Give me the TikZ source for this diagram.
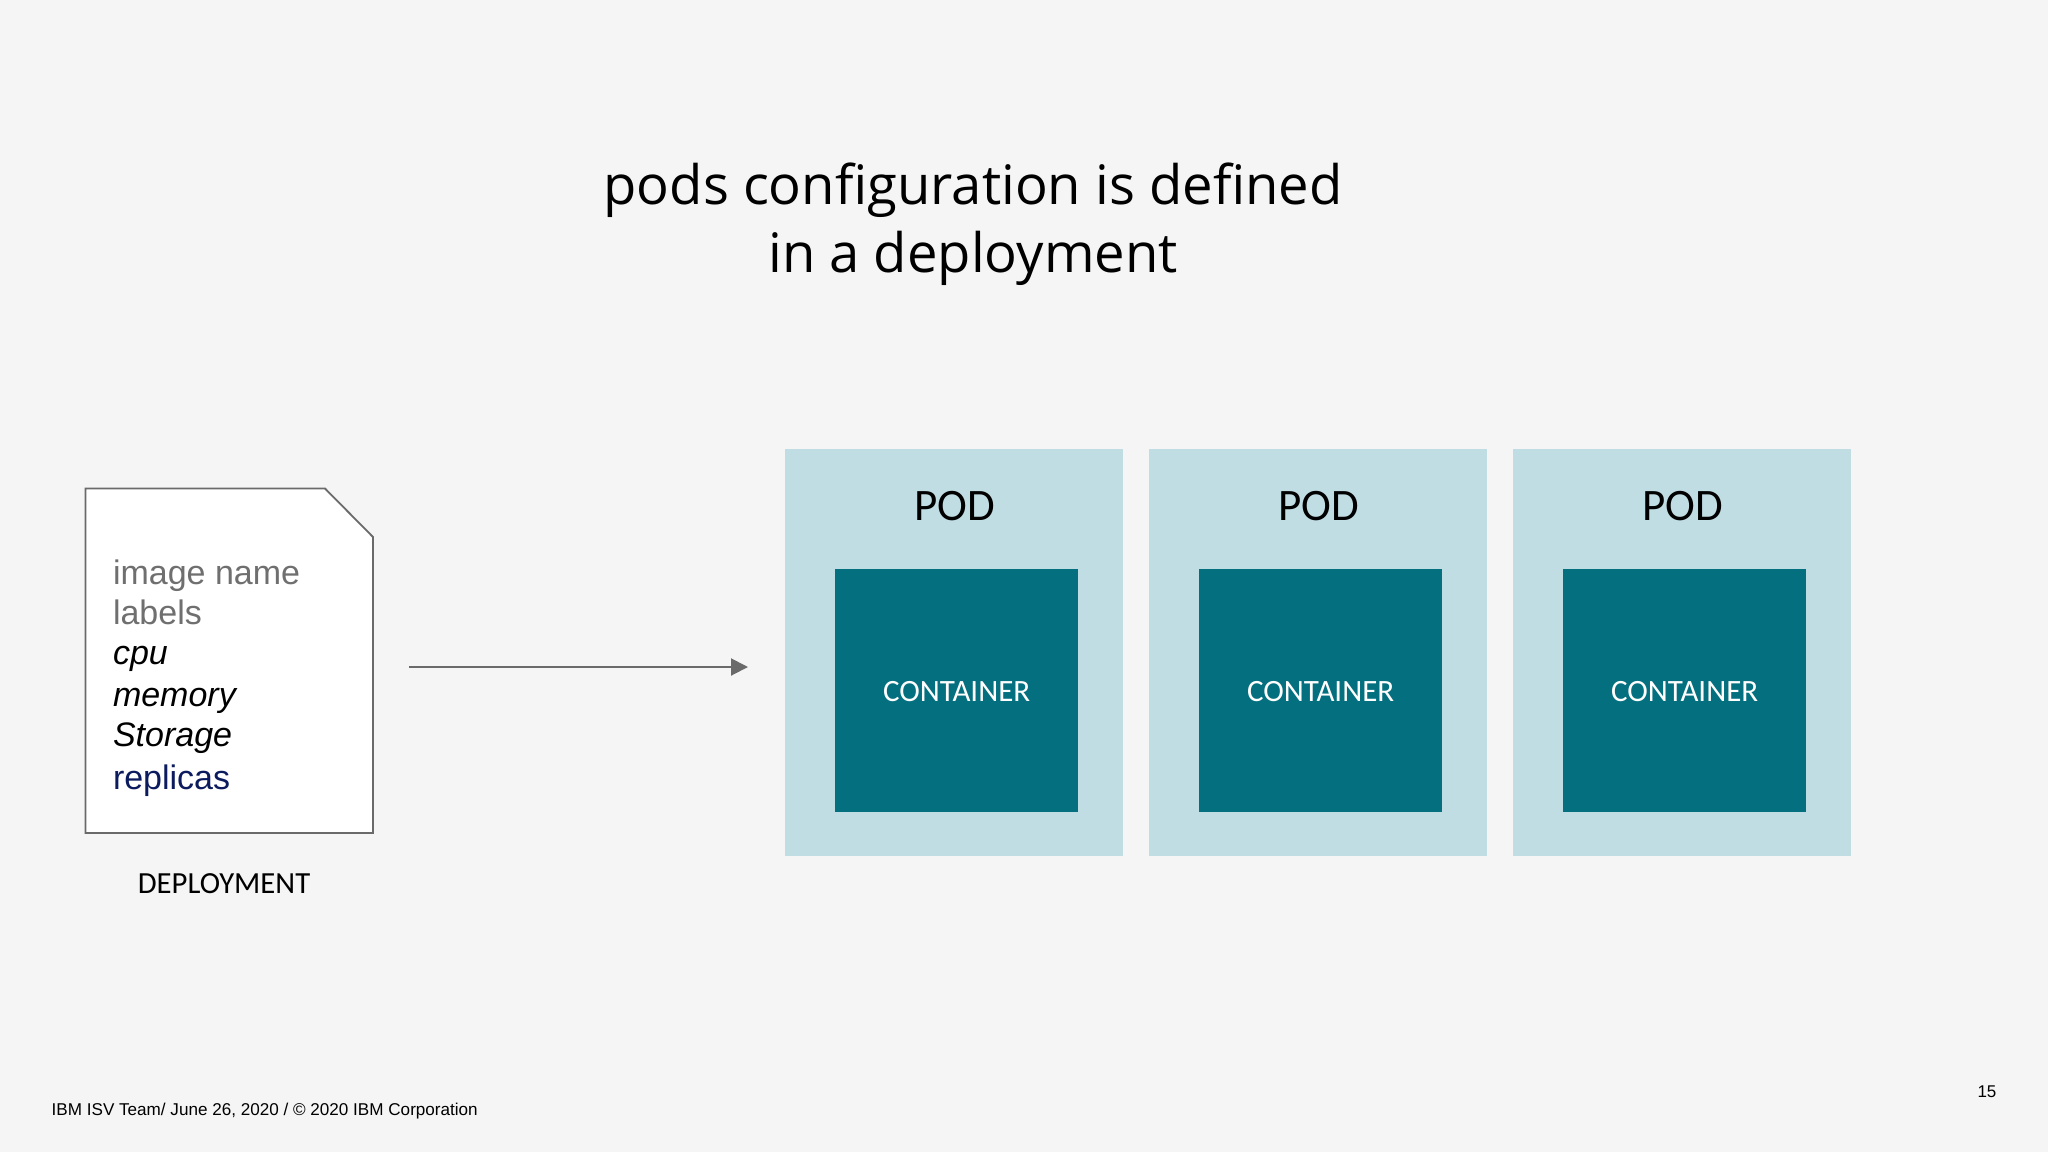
\documentclass[tikz,border=0pt]{standalone}
\usepackage{fontspec}
\setmainfont{Liberation Sans}
\newfontfamily\titlefont{Open Sans}
\newfontfamily\boxfont{Carlito}
\definecolor{bgc}{HTML}{F5F5F6}
\definecolor{podc}{HTML}{C1DDE4}
\definecolor{contc}{HTML}{04707F}
\definecolor{linec}{HTML}{6A6A6A}
\definecolor{greyt}{HTML}{6F6F6F}
\definecolor{navyt}{HTML}{0B1B5E}
\newcommand{\fs}[1]{\fontsize{#1}{#1}\selectfont}
\usetikzlibrary{arrows.meta}
\tikzset{
  x=1pt,y=-1pt,
  plain/.style={inner sep=0pt,outer sep=0pt},
  podbox/.style={plain,fill=podc,minimum width=337.4pt,minimum height=406.4pt},
  contbox/.style={plain,fill=contc,minimum width=243pt,minimum height=242.7pt},
  podlabel/.style={plain,anchor=base,font=\boxfont\fs{45},text=black},
  contlabel/.style={plain,anchor=base,font=\boxfont\fs{31},text=white},
  doctext/.style={plain,anchor=base west,font=\fs{34}},
  foot/.style={plain,anchor=base west,font=\fs{17.1},text=black},
}
\begin{document}
\begin{tikzpicture}
\useasboundingbox (0,0) rectangle (2048,1152);
\fill[bgc] (0,0) rectangle (2048,1152);
\node[plain,align=center,font=\titlefont\fs{54.4}] (title) at (973,224) {pods configuration is defined\\[14pt]in a deployment};
% deployment document
\draw[linec,line width=1.8pt,fill=white] (85.5,488.5) -- (325,488.5) -- (373,537) -- (373,833) -- (85.5,833) -- cycle;
\node[doctext,text=greyt] (l1) at (113,584) {image name};
\node[doctext,text=greyt] (l2) at (113,624) {labels};
\node[doctext,text=black] (l3) at (113,664) {\itshape cpu};
\node[doctext,text=black] (l4) at (113,706.5) {\itshape memory};
\node[doctext,text=black] (l5) at (113,746) {\itshape Storage};
\node[doctext,text=navyt] (l6) at (113,789) {replicas};
\node[plain,anchor=base,font=\boxfont\fs{30.7}] (dep) at (224,893.5) {DEPLOYMENT};
% arrow
\coordinate (from) at (409,667);
\coordinate (to) at (748,667);
\draw[linec,line width=2pt,-{Triangle[length=17pt,width=17pt]}] (from) -- (to);
% pods
\foreach \i/\px in {1/954,2/1318,3/1682}{
  \node[podbox] (pod\i) at (\px,652.5) {};
  \node[contbox] (cont\i) at (\px+2.2,690.4) {};
  \node[podlabel] (podl\i) at (\px+0.8,520) {POD};
  \node[contlabel] (contl\i) at (\px+2.6,701.5) {CONTAINER};
}
\node[foot] (footer) at (51.7,1115.7) {IBM ISV Team/ June 26, 2020 / © 2020 IBM Corporation};
\node[foot,font=\fs{17}] (page) at (1977.5,1097) {15};
\end{tikzpicture}
\end{document}
